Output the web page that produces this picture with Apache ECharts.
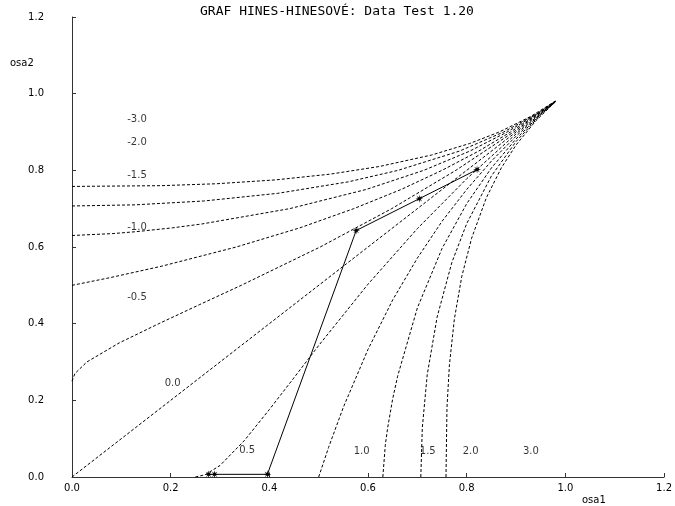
<!DOCTYPE html>
<html>
<head>
<meta charset="utf-8">
<script src="https://cdn.jsdelivr.net/npm/echarts@6/dist/echarts.min.js"></script>
<style>html,body{margin:0;padding:0;background:#fff}#c{width:675px;height:506px}</style>
</head>
<body>
<div id="c"></div>
<script>
// Reference curves (osa1, osa2 pairs)
const curveP05 = [[0.25,0],[0.27,0.006],[0.3,0.030],[0.35,0.096],[0.4,0.176],[0.45,0.259],[0.5,0.343],[0.6,0.503],[0.7,0.648],[0.8,0.778],[0.9,0.895],[0.98,0.980]];
const curveP10 = [[0.5,0],[0.52,0.077],[0.55,0.182],[0.6,0.333],[0.65,0.462],[0.7,0.571],[0.75,0.667],[0.8,0.75],[0.85,0.824],[0.9,0.889],[0.95,0.947],[0.98,0.980]];
const curveP15 = [[0.63,0],[0.635,0.083],[0.64,0.13],[0.65,0.204],[0.66,0.263],[0.7,0.441],[0.75,0.596],[0.8,0.713],[0.85,0.806],[0.9,0.882],[0.95,0.946],[0.98,0.979]];
const curveP20 = [[0.707,0],[0.71,0.128],[0.72,0.267],[0.74,0.417],[0.77,0.560],[0.8,0.661],[0.85,0.785],[0.9,0.875],[0.95,0.945],[0.98,0.979]];
const curveP30 = [[0.758,0],[0.76,0.181],[0.765,0.293],[0.775,0.412],[0.79,0.523],[0.81,0.623],[0.84,0.729],[0.87,0.806],[0.9,0.866],[0.94,0.929],[0.98,0.979]];
const curveZero = [[0,0],[0.2,0.2],[0.4,0.4],[0.6,0.6],[0.8,0.8],[0.98,0.98]];
const curveM05 = [[0,0.25],[0.006,0.27],[0.030,0.3],[0.096,0.35],[0.176,0.4],[0.259,0.45],[0.343,0.5],[0.503,0.6],[0.648,0.7],[0.778,0.8],[0.895,0.9],[0.980,0.98]];
const curveM10 = [[0,0.5],[0.077,0.52],[0.182,0.55],[0.333,0.6],[0.462,0.65],[0.571,0.7],[0.667,0.75],[0.75,0.8],[0.824,0.85],[0.889,0.9],[0.947,0.95],[0.980,0.98]];
const curveM15 = [[0,0.63],[0.083,0.635],[0.13,0.64],[0.204,0.65],[0.263,0.66],[0.441,0.7],[0.596,0.75],[0.713,0.8],[0.806,0.85],[0.882,0.9],[0.946,0.95],[0.979,0.98]];
const curveM20 = [[0,0.707],[0.128,0.71],[0.267,0.72],[0.417,0.74],[0.560,0.77],[0.661,0.8],[0.785,0.85],[0.875,0.9],[0.945,0.95],[0.979,0.98]];
const curveM30 = [[0,0.758],[0.181,0.76],[0.293,0.765],[0.412,0.775],[0.523,0.79],[0.623,0.81],[0.729,0.84],[0.806,0.87],[0.866,0.9],[0.929,0.94],[0.979,0.98]];

// Measured data points
const dataOsa1 = [0.277, 0.289, 0.396, 0.576, 0.704, 0.821];
const dataOsa2 = [0.007, 0.007, 0.007, 0.643, 0.726, 0.802];

// Curve labels
const levelLabels = ['-3.0','-2.0','-1.5','-1.0','-0.5','0.0','0.5','1.0','1.5','2.0','3.0'];
const labelOsa1 = [0.112,0.112,0.112,0.112,0.112,0.188,0.339,0.571,0.705,0.792,0.914];
const labelOsa2 = [0.9325,0.873,0.787,0.651,0.468,0.244,0.070,0.067,0.067,0.067,0.067];

const tickLabels = ['0.0','0.2','0.4','0.6','0.8','1.0','1.2'];

const chart = echarts.init(document.getElementById('c'), null, {renderer:'canvas'});
const curves = [curveM30,curveM20,curveM15,curveM10,curveM05,curveZero,curveP05,curveP10,curveP15,curveP20,curveP30];
const series = curves.map(c => ({
  type:'line', data:c, showSymbol:false, silent:true, smooth:false,
  lineStyle:{color:'#000', width:1, type:[3,2]}
}));
series.push({
  type:'line',
  data: dataOsa1.map((x,i)=>[x,dataOsa2[i]]),
  symbol:'path://M5,0L1.6,0.7L3.54,3.54L0.7,1.6L0,5L-0.7,1.6L-3.54,3.54L-1.6,0.7L-5,0L-1.6,-0.7L-3.54,-3.54L-0.7,-1.6L0,-5L0.7,-1.6L3.54,-3.54L1.6,-0.7Z',
  symbolSize:8,
  itemStyle:{color:'#000'},
  lineStyle:{color:'#000', width:1},
  silent:true
});
series.push({
  type:'scatter',
  data: levelLabels.map((t,i)=>({name:t, value:[labelOsa1[i], labelOsa2[i]]})),
  symbolSize:0,
  silent:true,
  label:{show:true, formatter:'{b}', position:'right', distance:0, color:'#000', fontSize:10, fontFamily:'DejaVu Sans'}
});

const axisCommon = {
  type:'value', min:0, max:1.2, interval:0.2,
  axisLine:{show:true, lineStyle:{color:'#333', width:1}},
  axisTick:{show:true, inside:true, length:4, lineStyle:{color:'#333'}},
  splitLine:{show:false},
  axisLabel:{color:'#000', fontSize:10, fontFamily:'DejaVu Sans', formatter:(v)=>tickLabels[Math.round(v/0.2)]}
};

chart.setOption({
  animation:false,
  backgroundColor:'#fff',
  title:{text:'GRAF HINES-HINESOVÉ: Data Test 1.20', left:200, top:5, padding:0,
    textStyle:{fontFamily:'DejaVu Sans Mono', fontSize:13, fontWeight:'normal', color:'#000'}},
  grid:{left:72, right:8, top:17, bottom:29, containLabel:false},
  xAxis:Object.assign({}, axisCommon, {axisLabel:Object.assign({}, axisCommon.axisLabel, {margin:6})}),
  yAxis:Object.assign({}, axisCommon, {axisLabel:Object.assign({}, axisCommon.axisLabel, {margin:28})}),
  graphic:[
    {type:'text', x:10, y:63, style:{text:'osa2', fill:'#000', font:'10px "DejaVu Sans"', textVerticalAlign:'middle'}},
    {type:'text', x:582, y:500, style:{text:'osa1', fill:'#000', font:'10px "DejaVu Sans"', textVerticalAlign:'middle'}}
  ],
  series:series
});
</script>
</body>
</html>
